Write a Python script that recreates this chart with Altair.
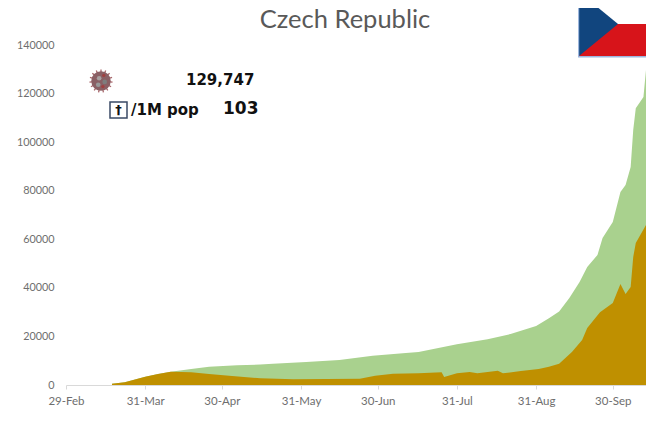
import base64
import altair as alt
import pandas as pd

FONT = "Lato"
TITLE = "Czech Republic"
TOTAL_LABEL = "129,747"
POP_LABEL = "/1M pop"
POP_VALUE = "103"

total_dates = ["2020-03-18","2020-03-23","2020-03-31","2020-04-05","2020-04-10","2020-04-18","2020-04-25",
               "2020-05-06","2020-05-15","2020-05-20","2020-06-02","2020-06-15","2020-06-28","2020-07-11",
               "2020-07-16","2020-07-31","2020-08-12","2020-08-21","2020-08-31","2020-09-05","2020-09-09",
               "2020-09-13","2020-09-17","2020-09-20","2020-09-24","2020-09-26","2020-09-28","2020-09-30",
               "2020-10-03","2020-10-05","2020-10-07","2020-10-08","2020-10-09","2020-10-12","2020-10-13"]
total_values = [500,1100,3400,4500,5500,6600,7550,8100,8400,8800,9500,10300,12000,13200,13600,16800,18800,
                21000,24300,27500,30300,35800,42400,48600,53500,60500,63800,67100,79500,82400,89800,105000,
                114000,118600,129747]

active_dates = ["2020-03-18","2020-03-23","2020-03-31","2020-04-05","2020-04-10","2020-04-18","2020-04-25",
                "2020-05-04","2020-05-15","2020-05-28","2020-06-23","2020-06-29","2020-07-06","2020-07-16",
                "2020-07-25","2020-07-26","2020-07-31","2020-08-05","2020-08-08","2020-08-16","2020-08-18",
                "2020-08-25","2020-09-01","2020-09-05","2020-09-09","2020-09-14","2020-09-18","2020-09-20",
                "2020-09-25","2020-09-30","2020-10-03","2020-10-05","2020-10-07","2020-10-08","2020-10-09",
                "2020-10-13"]
active_values = [500,1100,3400,4500,5500,5200,4500,3700,2750,2350,2600,3850,4650,4800,5200,3300,4800,5350,
                 4800,5900,4800,5800,6600,7550,8700,13600,18500,23500,30000,33800,41600,37500,40400,52700,
                 58500,65900]

tick_dates = ["2020-02-29","2020-03-31","2020-04-30","2020-05-31","2020-06-30","2020-07-31","2020-08-31","2020-09-30"]
y_ticks = [0,20000,40000,60000,80000,100000,120000,140000]

T = "T00:00:00"
df_total = pd.DataFrame({"date": [d + T for d in total_dates], "value": total_values})
df_active = pd.DataFrame({"date": [d + T for d in active_dates], "value": active_values})
one = pd.DataFrame({"k": [0]})

x = alt.X("date:T", title=None,
          scale=alt.Scale(domain=["2020-02-29" + T, "2020-10-13" + T]),
          axis=alt.Axis(values=[d + T for d in tick_dates], format="%d-%b", grid=False,
                        domainColor="#d9d9d9", tickColor="#d9d9d9", tickSize=4, labelPadding=6,
                        labelFont=FONT, labelFontSize=11.5, labelColor="#6e6e6e", labelOverlap=False,
                        labelFlush=False))
y = alt.Y("value:Q", title=None,
          scale=alt.Scale(domain=[0, 140000], nice=False),
          axis=alt.Axis(values=y_ticks, format=".0f", grid=False, domain=False, ticks=False, labelPadding=12,
                        labelFont=FONT, labelFontSize=10.8, labelColor="#6e6e6e"))

green = alt.Chart(df_total).mark_area(color="#A9D18E", interpolate="linear").encode(x=x, y=y)
orange = alt.Chart(df_active).mark_area(color="#BF9000", interpolate="linear").encode(x=x, y=y)


def uri(svg):
    return "data:image/svg+xml;base64," + base64.b64encode(svg.encode()).decode()


flag_svg = ('<svg xmlns="http://www.w3.org/2000/svg" width="76" height="58" viewBox="0 0 76 58">'
            '<rect width="76" height="58" fill="#ffffff"/>'
            '<rect x="1" y="24" width="75" height="32" fill="#D7141A"/>'
            '<polygon points="1,-8 40,24 1,56" fill="#11457E"/>'
            '<rect x="0" y="0" width="1.2" height="57" fill="#9db6dd"/>'
            '<rect x="0" y="56" width="76" height="1.5" fill="#9db6dd"/></svg>')

spikes = "".join(
    f'<line x1="14" y1="14" x2="14" y2="1.5" stroke="#a8666a" stroke-width="1.4" transform="rotate({a} 14 14)"/>'
    for a in range(0, 360, 24))
virus_svg = ('<svg xmlns="http://www.w3.org/2000/svg" width="28" height="28" viewBox="0 0 28 28">'
             + spikes +
             '<circle cx="14" cy="14" r="10.5" fill="#8a5f64"/>'
             '<circle cx="12" cy="11" r="2.5" fill="#a9a0a0"/><circle cx="18" cy="15" r="2.5" fill="#7d7d7d"/>'
             '<circle cx="11" cy="18" r="2.5" fill="#999999"/><circle cx="16" cy="20" r="1.8" fill="#a04040"/>'
             '<circle cx="17" cy="8" r="1.8" fill="#a04040"/></svg>')

flag = alt.Chart(one).mark_image(url=uri(flag_svg), width=76, height=58, align="left", baseline="top").encode(
    x=alt.value(512), y=alt.value(-45))
virus = alt.Chart(one).mark_image(url=uri(virus_svg), width=26, height=28, align="center", baseline="middle").encode(
    x=alt.value(35), y=alt.value(36))
box = alt.Chart(one).mark_rect(fill="#ffffff", stroke="#3a4a66", strokeWidth=1.5).encode(
    x=alt.value(44), x2=alt.value(61), y=alt.value(57), y2=alt.value(73))


def label(text, px, py, size, bold=True, color="#111111", align="left", font="DejaVu Sans", baseline="middle"):
    return alt.Chart(pd.DataFrame({"t": [text]})).mark_text(
        font=font, fontSize=size, fontWeight="bold" if bold else "normal", color=color,
        align=align, baseline=baseline).encode(text="t:N", x=alt.value(px), y=alt.value(py))


chart = alt.layer(
    green, orange, flag, virus, box,
    label(TITLE, 279, -37, 25.5, bold=False, color="#595959", align="center", font="Lato", baseline="top"),
    label("\u2020", 52.5, 65, 13, align="center"),
    label(TOTAL_LABEL, 120, 34.5, 15),
    label(POP_LABEL, 65, 65, 15),
    label(POP_VALUE, 157, 63.5, 17),
).properties(
    width=580, height=340,
    padding={"left": 58, "top": 37, "right": 0, "bottom": 33},
    autosize=alt.AutoSizeParams(type="none"),
).configure_view(stroke=None)

chart.save("out.html", embed_options={"renderer": "svg", "actions": False})
